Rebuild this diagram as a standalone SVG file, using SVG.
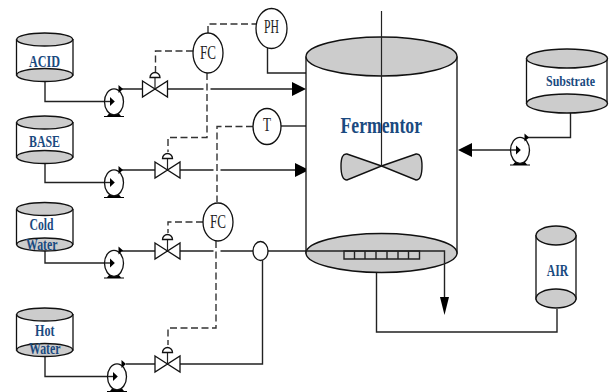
<svg xmlns="http://www.w3.org/2000/svg" width="611" height="392" viewBox="0 0 611 392">
<style>
.s{fill:none;stroke:#222;stroke-width:1.4}
.l{fill:none;stroke:#222;stroke-width:1.2}
.d{fill:none;stroke:#333;stroke-width:1.4;stroke-dasharray:7 3.500}
.g{fill:#ccc;stroke:#111;stroke-width:1.4}
.w{fill:#fff;stroke:#111;stroke-width:1.3}
.k{fill:#000;stroke:none}
.t{font-family:"Liberation Serif",serif;font-weight:bold;fill:#1a4a80;font-size:16px}
.i{font-family:"Liberation Serif",serif;fill:#222;font-size:18px}
</style>
<defs>
<g id="pump">
<path class="k" d="M-10 15.500H10V14.500H7L4 11H-4L-7 14.500H-10Z"/>
<ellipse class="w" cx="0" cy="0.300" rx="9.500" ry="13"/>
<line class="s" x1="-9" y1="0" x2="-3" y2="0"/>
<path class="k" d="M-4 -4.500L0.800 0L-4 4.500Z"/>
<path class="k" d="M4.500 -16.500L9 -12.500L4.500 -8.500Z"/>
</g>
<g id="valve">
<path class="w" d="M-12.500 -8L12.500 8V-8L-12.500 8Z"/>
<line class="l" x1="0" y1="0" x2="0" y2="-12"/>
<path class="w" d="M-5 -11.500A5 5 0 0 1 5 -11.500Z"/>
</g>
</defs>
<rect width="611" height="392" fill="#fff"/>
<g id="connectors">
<path class="s" d="M45 81V101.500H105"/>
<path class="s" d="M45 163V182.500H105"/>
<path class="s" d="M45 250V263H105"/>
<path class="s" d="M45 356V376.500H108"/>
<path class="s" d="M122 89H142M168 89H203.500M210.500 89H292"/>
<path class="k" d="M292 82L306 89L292 96Z"/>
<path class="s" d="M122 170H155M180 170H213.500M220.500 170H295"/>
<path class="k" d="M295 163L309 170L295 177Z"/>
<path class="s" d="M122 251H155M180 251H213.500M220.500 251H253M268 251H306"/>
<path class="s" d="M126 364H155M180 364H262.500V260"/>
<path class="s" d="M267.500 48V73H306"/>
<path class="s" d="M281 126H306"/>
<path class="d" d="M208 33V24H256"/>
<path class="d" d="M193 51H155.500V72"/>
<path class="d" d="M207 73V137.500H168V152"/>
<path class="d" d="M253 126.500H217V202"/>
<path class="d" d="M203 222H168V233"/>
<path class="d" d="M216 241V328H168V345"/>
<path class="s" d="M376.500 273V332H557V309"/>
<path class="s" d="M570.500 113V137.500H527"/>
<path class="s" d="M472 150H510"/>
<path class="k" d="M472 143V157L458 150Z"/>
</g>
<g id="acid-tank"><path class="w" d="M16.500 39V75H73V39"/><ellipse class="g" cx="44.700" cy="39.500" rx="28" ry="6.500"/><ellipse class="g" cx="44.700" cy="75" rx="28" ry="6.500"/><text class="t" x="29" y="66.500" textLength="31" lengthAdjust="spacingAndGlyphs">ACID</text></g>
<g id="base-tank"><path class="w" d="M16.500 122V157H73V122"/><ellipse class="g" cx="44.700" cy="122.500" rx="28" ry="6.500"/><ellipse class="g" cx="44.700" cy="157" rx="28" ry="6.500"/><text class="t" x="29" y="147" textLength="31" lengthAdjust="spacingAndGlyphs">BASE</text></g>
<g id="cold-tank"><path class="w" d="M16.500 209V244H73V209"/><ellipse class="g" cx="44.700" cy="209" rx="28" ry="6.500"/><ellipse class="g" cx="44.700" cy="244.500" rx="28" ry="6.500"/><text class="t" x="29.500" y="230" textLength="24" lengthAdjust="spacingAndGlyphs">Cold</text><text class="t" x="26" y="249.500" textLength="31.500" lengthAdjust="spacingAndGlyphs">Water</text></g>
<g id="hot-tank"><path class="w" d="M16.500 314V350H73V314"/><ellipse class="g" cx="44.700" cy="314.500" rx="28" ry="6.500"/><ellipse class="g" cx="44.700" cy="350" rx="28" ry="6.500"/><text class="t" x="35" y="336" textLength="19.500" lengthAdjust="spacingAndGlyphs">Hot</text><text class="t" x="29" y="354" textLength="31.500" lengthAdjust="spacingAndGlyphs">Water</text></g>
<g id="substrate-tank"><path class="w" d="M526.500 58V103H607V58"/><ellipse class="g" cx="567" cy="58.500" rx="40.500" ry="9.500"/><ellipse class="g" cx="567" cy="103.500" rx="40.500" ry="9.500"/><text class="t" x="546" y="86" font-size="15" style="font-size:15px" textLength="49" lengthAdjust="spacingAndGlyphs">Substrate</text></g>
<g id="air-tank"><path class="w" d="M536 235V299H576V235"/><ellipse class="g" cx="556" cy="235.500" rx="20" ry="9.500"/><ellipse class="g" cx="556" cy="298.500" rx="20" ry="9.500"/><text class="t" x="546.700" y="276" textLength="21.500" lengthAdjust="spacingAndGlyphs">AIR</text></g>
<g id="pump-acid"><use href="#pump" x="114" y="101.500"/></g>
<g id="pump-base"><use href="#pump" x="114" y="182.500"/></g>
<g id="pump-cold"><use href="#pump" x="114" y="263"/></g>
<g id="pump-hot"><use href="#pump" x="117" y="376.500"/></g>
<g id="pump-substrate"><use href="#pump" x="520" y="150"/></g>
<g id="valve-acid"><use href="#valve" x="155" y="89"/></g>
<g id="valve-base"><use href="#valve" x="167.500" y="170"/></g>
<g id="valve-cold"><use href="#valve" x="167.500" y="251"/></g>
<g id="valve-hot"><use href="#valve" x="167.500" y="364"/></g>
<g id="fc-1"><ellipse class="w" cx="208" cy="53" rx="15" ry="20"/><text class="i" x="200" y="59" textLength="16" lengthAdjust="spacingAndGlyphs">FC</text></g>
<g id="ph"><ellipse class="w" cx="271.500" cy="28.500" rx="15.500" ry="20"/><text class="i" x="264" y="33" textLength="15" lengthAdjust="spacingAndGlyphs">PH</text></g>
<g id="t"><ellipse class="w" cx="267" cy="126.500" rx="14" ry="18"/><text class="i" x="263" y="131" textLength="8" lengthAdjust="spacingAndGlyphs">T</text></g>
<g id="fc-2"><ellipse class="w" cx="218" cy="222" rx="15" ry="19"/><text class="i" x="210" y="227.500" textLength="16" lengthAdjust="spacingAndGlyphs">FC</text></g>
<g id="junction"><ellipse class="w" cx="260.500" cy="251" rx="7.500" ry="9.500"/></g>
<g id="fermentor">
<path class="w" d="M306 56.500V253H457V56.500"/>
<ellipse class="g" cx="381.500" cy="56.500" rx="75.500" ry="19.500"/>
<ellipse class="g" cx="381.500" cy="253" rx="75.500" ry="19.500"/>
<path class="g" d="M381.500 166L347 154Q341 153 341 166Q341 180 347 180Z"/>
<path class="g" d="M381.500 166L416 154Q422 153 422 166Q422 180 416 180Z"/>
<line class="l" x1="381.500" y1="11" x2="381.500" y2="166"/>
<text class="t" x="340.500" y="132.700" style="font-size:24px" textLength="81.500" lengthAdjust="spacingAndGlyphs">Fermentor</text>
</g>
<g id="sparger">
<path class="s" d="M344 251H419.500V259H344Z"/>
<path class="s" d="M354.500 251V259M365 251V259M376 251V259M387 251V259M398 251V259M408.500 251V259"/>
<path class="s" d="M306 251H444.500V297"/>
<path class="k" d="M440 297H449L444.500 315Z"/>
</g>
</svg>
